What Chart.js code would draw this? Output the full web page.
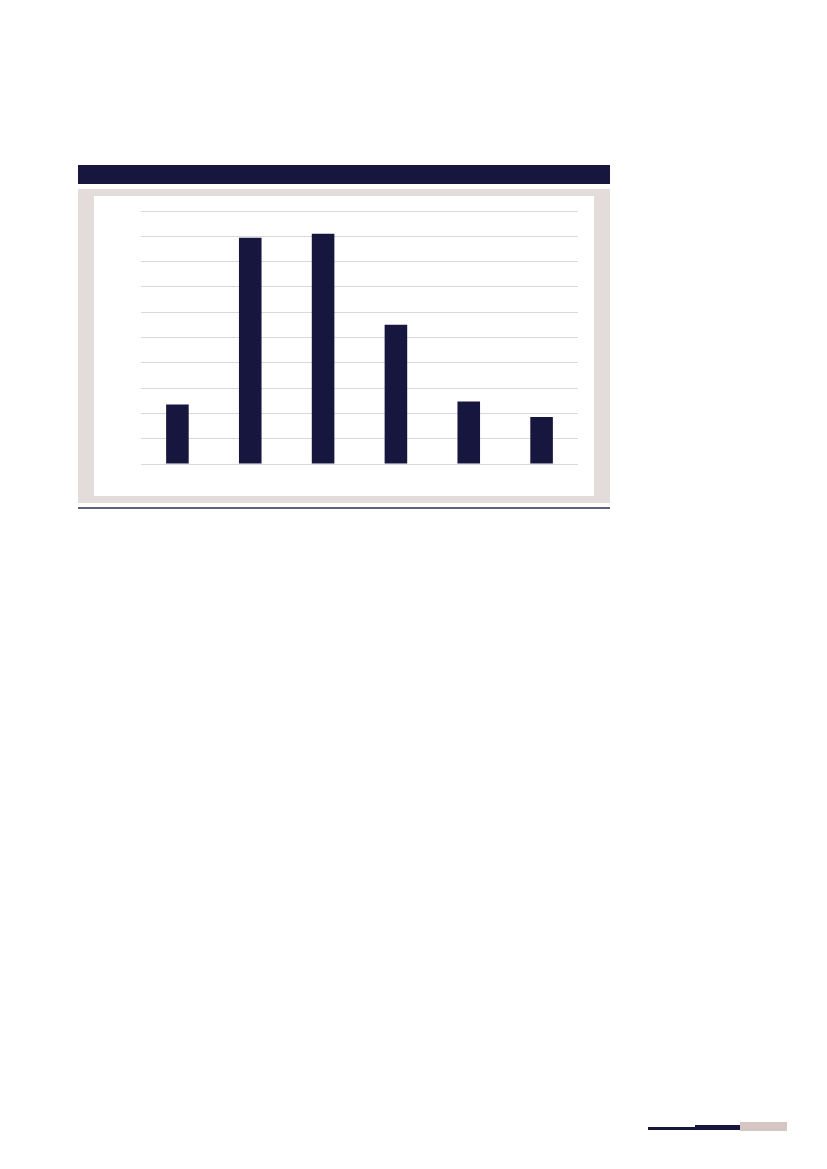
<!DOCTYPE html>
<html>
<head>
<meta charset="UTF-8">
<title>bar chart</title>
<script src="https://cdn.jsdelivr.net/npm/chart.js"></script>
<style>
  body { margin: 0; background: #fff; width: 827px; height: 1169px; position: relative; overflow: hidden; }
  #band { position: absolute; left: 78px; top: 165px; width: 532px; height: 19px; background: #16163f; }
  #frame { position: absolute; left: 78px; top: 189px; width: 532px; height: 314px; background: #e3dcda; }
  #inner { position: absolute; left: 16px; top: 7px; width: 500px; height: 300px; background: #fff; }
  #rule { position: absolute; left: 78px; top: 507px; width: 532px; height: 2px; background: #5e5f7a; }
  .deco { position: absolute; }
</style>
</head>
<body>
  <div id="band"></div>
  <div id="frame"><div id="inner"><canvas id="chart" width="500" height="300"></canvas></div></div>
  <div id="rule"></div>
  <div class="deco" style="left:648px;top:1127px;width:47px;height:3px;background:#16163f"></div>
  <div class="deco" style="left:695px;top:1125px;width:45px;height:5px;background:#16163f"></div>
  <div class="deco" style="left:740px;top:1122px;width:47px;height:9px;background:#d5c6c3"></div>

<script>
// values (no labels shown in the reference)
const categories = ['1', '2', '3', '4', '5', '6'];
const values = [2.35, 8.94, 9.1, 5.5, 2.47, 1.86];
const yMin = 0;
const yMax = 10;
const yStep = 1;

const ctx = document.getElementById('chart').getContext('2d');
new Chart(ctx, {
  type: 'bar',
  data: {
    labels: categories,
    datasets: [{
      data: values,
      backgroundColor: '#16163f',
      borderWidth: 0,
      categoryPercentage: 1,
      barPercentage: 0.31
    }]
  },
  options: {
    responsive: false,
    devicePixelRatio: 1,
    animation: false,
    layout: { padding: { left: 47, right: 16, top: 15, bottom: 32 } },
    plugins: { legend: { display: false }, tooltip: { enabled: false } },
    scales: {
      x: { display: false },
      y: {
        min: yMin,
        max: yMax,
        ticks: { display: false, stepSize: yStep },
        border: { display: false },
        grid: { color: '#d9d9d9', lineWidth: 1, drawTicks: false }
      }
    }
  }
});
</script>
</body>
</html>
